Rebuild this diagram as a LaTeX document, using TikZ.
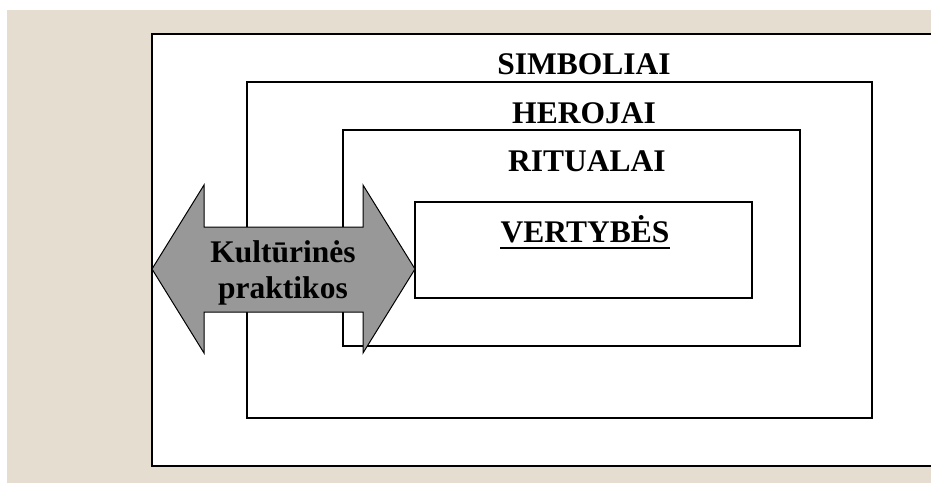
\documentclass[tikz,border=0pt]{standalone}
\usepackage{fontspec}
\setmainfont{Liberation Serif}
\usetikzlibrary{positioning}
\definecolor{paper}{RGB}{228,221,208}
\definecolor{arrowgray}{RGB}{152,152,152}
\tikzset{
  frame/.style={draw=black, line width=1.8pt, fill=white},
  layer/.style={
    font=\fontsize{31.5}{36}\selectfont\bfseries,
    inner sep=0pt, anchor=base
  },
  practice/.style={draw=black, line width=1pt, fill=arrowgray},
  practicetext/.style={
    font=\fontsize{31.5}{36}\selectfont\bfseries,
    align=center, inner sep=0pt
  }
}

\begin{document}
\begin{tikzpicture}[x=1pt, y=-1pt]
  \useasboundingbox (0,0) rectangle (931,483);
  \fill[white] (0,0) rectangle (931,483);
  \fill[paper] (7,10) rectangle (931,483);

  % nested layers
  \draw[frame] (152,34) rectangle (945,466);
  \draw[frame] (247,82) rectangle (872,418);
  \draw[frame] (343,130) rectangle (800,346);
  \draw[frame] (415,202) rectangle (752,298);

  \node[layer] (symbols) at (584,74) {SIMBOLIAI};
  \node[layer] (heroes) at (584,123) {HEROJAI};
  \node[layer] (rituals) at (587,171) {RITUALAI};
  \node[layer] (values) at (585,242) {VERTYBĖS};
  \draw[line width=2.5pt] ([yshift=-6pt]values.base west) -- ([yshift=-6pt]values.base east);

  % practices arrow
  \draw[practice] (152,269) -- (204,185) -- (204,227) -- (363,227) -- (363,185)
    -- (415,269) -- (363,353) -- (363,312) -- (204,312) -- (204,353) -- cycle;
  \node[practicetext] (practices) at (283,272.5) {Kultūrinės\\praktikos};
\end{tikzpicture}
\end{document}
